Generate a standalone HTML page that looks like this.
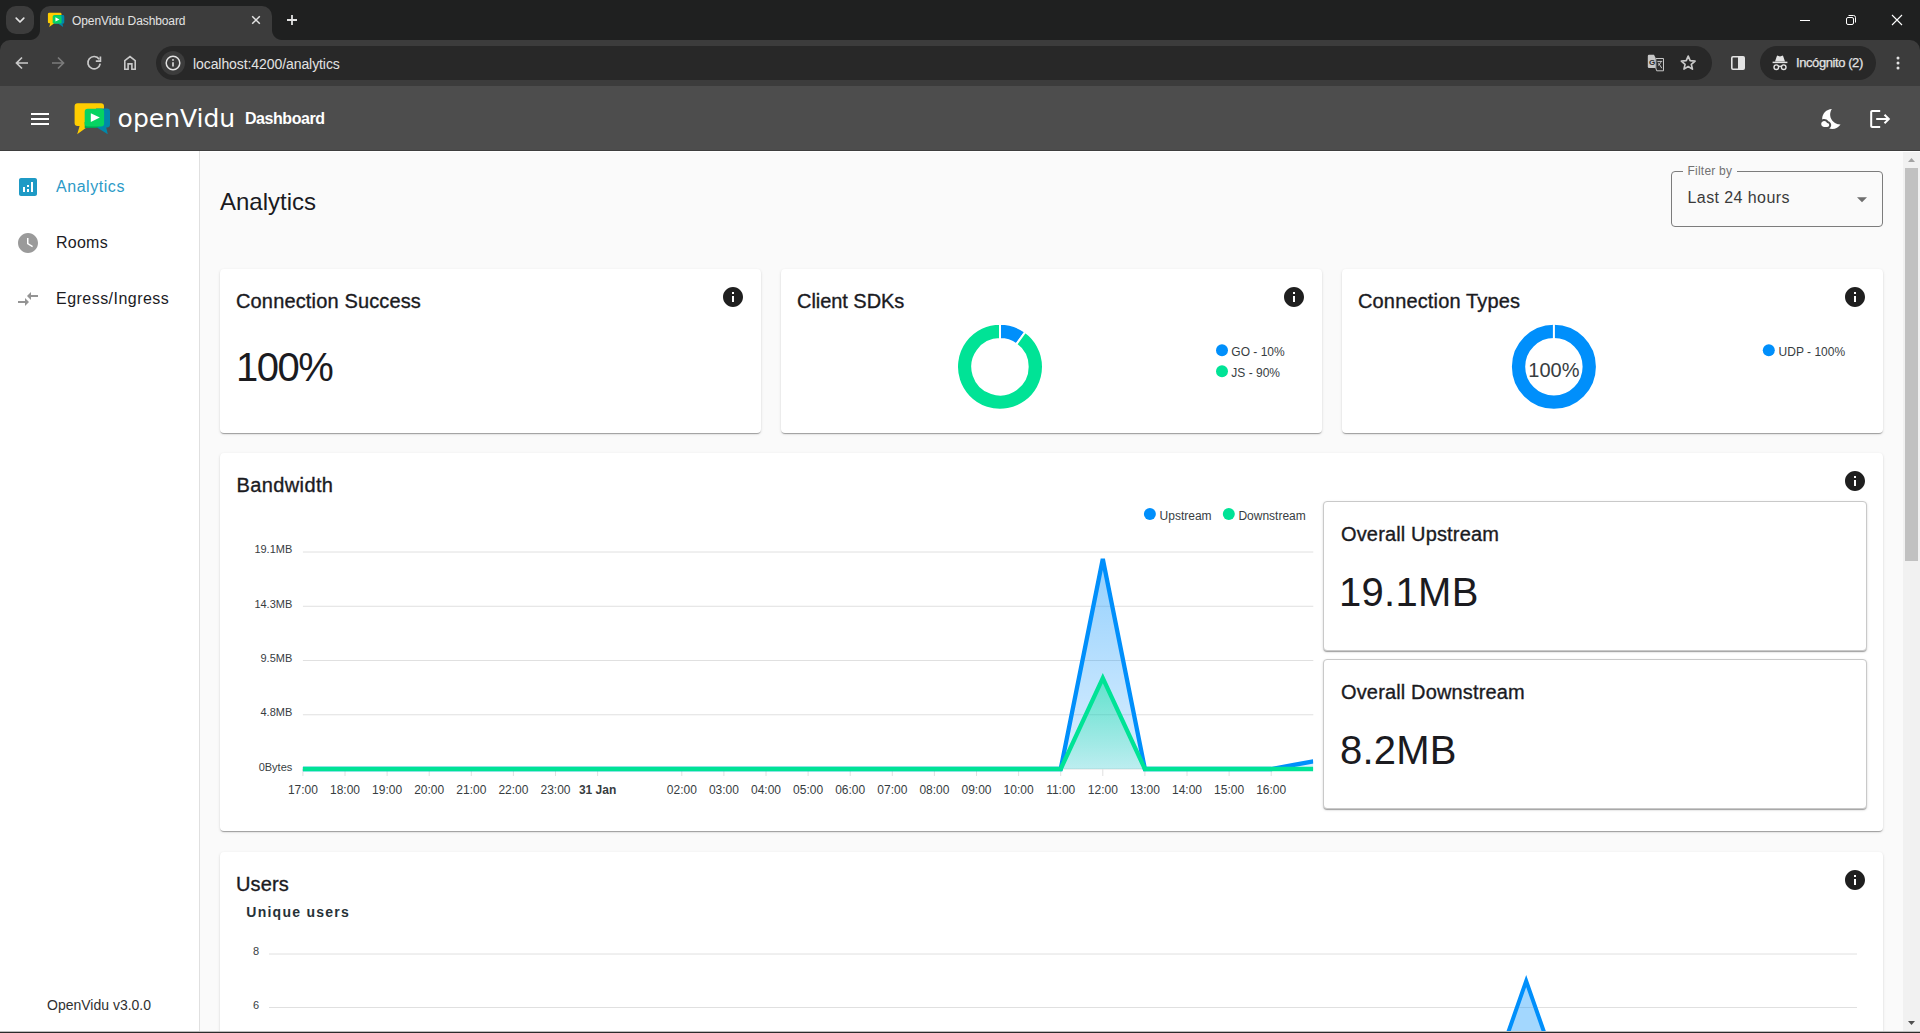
<!DOCTYPE html>
<html lang="en">
<head>
<meta charset="utf-8">
<title>OpenVidu Dashboard</title>
<style>
*{box-sizing:border-box;margin:0;padding:0}
html,body{width:1920px;height:1033px;overflow:hidden;background:#fafafa;font-family:"Liberation Sans",sans-serif;color:#1b1b1f}
#root{position:relative;width:1920px;height:1033px;overflow:hidden}
.abs{position:absolute}
/* ---------- browser chrome ---------- */
#tabstrip{position:absolute;left:0;top:0;width:1920px;height:52px;background:#1f2020}
#tabsearch{position:absolute;left:6px;top:6px;width:28px;height:28px;border-radius:10px;background:#3c3c3c}
#tab{position:absolute;left:40px;top:6px;width:232px;height:34px;border-radius:10px 10px 0 0;background:#3c3c3c}
#tab:before,#tab:after{content:"";position:absolute;bottom:0;width:10px;height:10px}
#tab:before{left:-10px;background:radial-gradient(circle at 0 0,transparent 9.5px,#3c3c3c 10.5px)}
#tab:after{right:-10px;background:radial-gradient(circle at 100% 0,transparent 9.5px,#3c3c3c 10.5px)}
#tabtitle{position:absolute;left:72px;top:14px;font-size:12px;line-height:14px;color:#e3e3e3;white-space:nowrap;letter-spacing:-0.1px}
#toolbar{position:absolute;left:0;top:40px;width:1920px;height:46px;background:#3c3c3c;border-radius:10px 10px 0 0}
#omni{position:absolute;left:156px;top:46px;width:1556px;height:34px;border-radius:17px;background:#282828}
#omni-ic{position:absolute;left:161px;top:51px;width:24px;height:24px;border-radius:12px;background:#3c3c3c}
#url{position:absolute;left:193px;top:55.6px;font-size:14px;line-height:16px;color:#e3e3e3;white-space:nowrap;letter-spacing:-.08px}
#incog{position:absolute;left:1760px;top:46px;width:116px;height:34px;border-radius:17px;background:#282828}
#incog-t{position:absolute;left:1796px;top:55px;font-size:13px;line-height:16px;color:#e3e3e3;white-space:nowrap;letter-spacing:-0.42px;-webkit-text-stroke:.25px #e3e3e3}
/* ---------- app header ---------- */
#apphead{position:absolute;left:0;top:86px;width:1920px;height:65px;background:#4d4d4d;border-bottom:1px solid #3e3e3e}
#dash{position:absolute;left:245px;top:109px;font-size:16px;line-height:20px;font-weight:bold;color:#fff;white-space:nowrap;letter-spacing:-0.45px}
/* ---------- sidebar ---------- */
#side{position:absolute;left:0;top:151px;width:200px;height:880px;background:#fff;border-right:1px solid #e0e0e0}
.nav{position:absolute;left:56px;font-size:16px;line-height:20px;color:#1b1b1f;white-space:nowrap;letter-spacing:.2px}
#ver{position:absolute;left:47px;top:997px;font-size:14px;line-height:16px;color:#303030;white-space:nowrap}
/* ---------- main ---------- */
#main{position:absolute;left:200px;top:151px;width:1720px;height:880px;background:#fafafa;border-top:1px solid #fff}
#sbar{position:absolute;left:1903px;top:152px;width:17px;height:879px;background:#f1f1f1}
#sthumb{position:absolute;left:1905px;top:168px;width:13px;height:393px;background:#c1c1c1}
#botline{position:absolute;left:0;top:1031px;width:1920px;height:2px;background:#2b2b2b;border-top:1px solid #bdbdbd}
h1{position:absolute;left:220px;top:187px;font-size:24px;line-height:30px;font-weight:normal;color:#1b1b1f;white-space:nowrap}
.card{position:absolute;background:#fff;border-radius:4px;box-shadow:0 2px 1px -1px rgba(0,0,0,.2),0 1px 1px 0 rgba(0,0,0,.14),0 1px 3px 0 rgba(0,0,0,.12)}
.ct{position:absolute;font-size:20px;line-height:24px;font-weight:normal;color:#1b1b1f;white-space:nowrap;-webkit-text-stroke:.35px #1b1b1f;letter-spacing:.15px}
.big{position:absolute;font-size:40px;line-height:46px;color:#1b1b1f;white-space:nowrap;letter-spacing:-1.5px}
.ocard{position:absolute;background:#fff;border:1px solid #c9c9c9;border-radius:4px;box-shadow:0 2px 1px -1px rgba(0,0,0,.2),0 1px 1px 0 rgba(0,0,0,.14),0 1px 3px 0 rgba(0,0,0,.12)}
svg{position:absolute;overflow:visible}
svg text{font-family:"Liberation Sans",sans-serif}
</style>
</head>
<body>
<div id="root">
<!-- CHROME -->
<div id="tabstrip"></div>
<div id="tabsearch"></div>
<div id="tab"></div>
<div id="tabtitle">OpenVidu Dashboard</div>
<div id="toolbar"></div>
<div id="omni"></div>
<div id="omni-ic"></div>
<div id="url">localhost:4200/analytics</div>
<div id="incog"></div>
<div id="incog-t">Incógnito (2)</div>
<!-- chrome icons -->
<svg style="left:0;top:0" width="1920" height="86" viewBox="0 0 1920 86">
 <!-- tab search chevron -->
 <path d="M16.2 18.2 L20 22 L23.8 18.2" fill="none" stroke="#e3e3e3" stroke-width="1.7" stroke-linecap="round" stroke-linejoin="round"/>
 <!-- favicon -->
 <g transform="translate(47.9,12.8) scale(0.455)">
  <path d="M3 0 H27 a3 3 0 0 1 3 3 V20 a3 3 0 0 1 -3 3 H14 L3 31 L5 23 H3 a3 3 0 0 1 -3 -3 V3 a3 3 0 0 1 3 -3z" fill="#ffcd00"/>
  <path d="M14 5 H33 a3 3 0 0 1 3 3 V21 a3 3 0 0 1 -3 3 H32 L33.5 31 L23 24 H14z" fill="#0088aa"/>
  <rect x="10.5" y="5.5" width="19.5" height="18" rx="3" fill="#06d362"/>
  <path d="M16.5 10 L25.5 14.5 L16.5 19z" fill="#fff"/>
 </g>
 <!-- tab close -->
 <path d="M252.2 16.2 L259.8 23.8 M259.8 16.2 L252.2 23.8" stroke="#e3e3e3" stroke-width="1.5" fill="none"/>
 <!-- new tab plus -->
 <path d="M287 20 H297 M292 15 V25" stroke="#e3e3e3" stroke-width="1.8" fill="none"/>
 <!-- window controls -->
 <path d="M1800 20.5 H1810" stroke="#fff" stroke-width="1"/>
 <rect x="1846.5" y="17.5" width="7" height="7" rx="1.5" fill="none" stroke="#fff" stroke-width="1"/>
 <path d="M1848.5 15.5 H1853.5 a2 2 0 0 1 2 2 V22.5" fill="none" stroke="#fff" stroke-width="1"/>
 <path d="M1892 15 L1902 25 M1902 15 L1892 25" stroke="#fff" stroke-width="1.1" fill="none"/>
 <!-- back -->
 <path d="M28 63 H17 M22 57.5 L16.5 63 L22 68.5" fill="none" stroke="#c9c9c9" stroke-width="1.7" stroke-linejoin="miter"/>
 <!-- forward (disabled) -->
 <path d="M52 63 H63 M58 57.5 L63.5 63 L58 68.5" fill="none" stroke="#7b7b7b" stroke-width="1.7"/>
 <!-- reload -->
 <path d="M99.2 59.2 A6.2 6.2 0 1 0 100.2 63.6" fill="none" stroke="#c9c9c9" stroke-width="1.7"/>
 <path d="M100.4 56.6 V61.2 H95.8" fill="none" stroke="#c9c9c9" stroke-width="1.7"/>
 <!-- home -->
 <path d="M124.8 69.2 V60.6 L130 56.6 L135.2 60.6 V69.2 H131.9 V63.9 H128.1 V69.2z" fill="none" stroke="#c9c9c9" stroke-width="1.6" stroke-linejoin="miter"/>
 <!-- site info -->
 <circle cx="173" cy="63" r="6.8" fill="none" stroke="#e3e3e3" stroke-width="1.5"/>
 <path d="M173 62.2 V66.6" stroke="#e3e3e3" stroke-width="1.6"/>
 <circle cx="173" cy="59.9" r="0.95" fill="#e3e3e3"/>
 <!-- translate -->
 <path d="M1649 54.7 H1654 L1655.5 57.8 V68 H1649 a1.2 1.2 0 0 1 -1.2 -1.2 V55.9 a1.2 1.2 0 0 1 1.2 -1.2z" fill="#c7c7c7"/>
 <path d="M1655.8 58.5 H1663.5 V70.8 H1656.7 L1655.8 68z" fill="#2c2c2c" stroke="#c7c7c7" stroke-width="1"/>
 <text x="1649" y="64.8" font-size="8" font-weight="bold" fill="#2a2a2a">G</text>
 <path d="M1657.4 61.4 H1662.2 M1661 61.4 C1660.6 63.2 1659.6 64.4 1658 65.4 M1658.4 62.8 L1661.8 68.2" fill="none" stroke="#c7c7c7" stroke-width="1"/>
 <!-- star -->
 <path d="M1688.20 56.10 L1690.14 60.63 L1695.05 61.08 L1691.34 64.32 L1692.43 69.12 L1688.20 66.60 L1683.97 69.12 L1685.06 64.32 L1681.35 61.08 L1686.26 60.63z" fill="none" stroke="#c9c9c9" stroke-width="1.7" stroke-linejoin="round"/>
 <!-- side panel -->
 <rect x="1731.8" y="56.8" width="12.4" height="12.4" rx="1.2" fill="none" stroke="#e3e3e3" stroke-width="1.6"/>
 <rect x="1738" y="56.8" width="6.2" height="12.4" fill="#e3e3e3"/>
 <!-- incognito icon -->
 <path d="M1772.6 62.4 H1787.4" stroke="#e3e3e3" stroke-width="1.5"/>
 <path d="M1775 61.6 L1776.8 56.2 Q1777.1 55.4 1777.9 55.7 L1780 56.5 L1782.1 55.7 Q1782.9 55.4 1783.2 56.2 L1785 61.6z" fill="#e3e3e3"/>
 <circle cx="1776.3" cy="67.2" r="2.3" fill="none" stroke="#e3e3e3" stroke-width="1.4"/>
 <circle cx="1783.7" cy="67.2" r="2.3" fill="none" stroke="#e3e3e3" stroke-width="1.4"/>
 <path d="M1778.4 66.6 Q1780 65.6 1781.6 66.6" fill="none" stroke="#e3e3e3" stroke-width="1.3"/>
 <!-- menu dots -->
 <circle cx="1898" cy="58" r="1.5" fill="#e3e3e3"/><circle cx="1898" cy="63" r="1.5" fill="#e3e3e3"/><circle cx="1898" cy="68" r="1.5" fill="#e3e3e3"/>
</svg>
<!-- APP HEADER -->
<div id="apphead"></div>
<svg style="left:0;top:86px" width="1920" height="64" viewBox="0 86 1920 64">
 <!-- hamburger -->
 <path d="M31 113h18v2H31zM31 118h18v2H31zM31 123h18v2H31z" fill="#fff"/>
 <!-- logo -->
 <path d="M77.6 103.3 H101 a3 3 0 0 1 3 3 V123 a3 3 0 0 1 -3 3 H88.5 L77.2 134.2 L79.6 126 H77.6 a3 3 0 0 1 -3 -3 V106.3 a3 3 0 0 1 3 -3z" fill="#ffcd00"/>
 <path d="M96 108.5 H107 a3 3 0 0 1 3 3 V124.4 a3 3 0 0 1 -3 3 H106.2 L107.8 134.3 L97 127.4 H96z" fill="#0088aa"/>
 <path d="M84.7 122 V128 H96 L100 126 V122z" fill="#00a651"/>
 <rect x="84.7" y="108.7" width="19.4" height="17.8" rx="3" fill="#06d362"/>
 <path d="M90.8 113.2 L99.8 117.6 L90.8 122z" fill="#fff"/>
 <!-- moon (nights_stay) -->
 <g transform="translate(1820.2,107)" fill="#fff">
  <path d="M11.1 12.08c-2.33-4.51-.5-8.48.53-10.07C6.27 2.2 1.98 6.59 1.98 12c0 .14.02.28.02.42.62-.27 1.29-.42 2-.42 1.66 0 3.18.83 4.1 2.15 1.67.48 2.9 2.02 2.9 3.85 0 1.52-.87 2.83-2.12 3.51.98.32 2.03.5 3.11.5 3.5 0 6.58-1.8 8.37-4.52-2.36.23-6.98-.97-9.26-5.41z"/>
  <path d="M7 16h-.18C6.4 14.84 5.3 14 4 14c-1.66 0-3 1.34-3 3s1.34 3 3 3h3c1.1 0 2-.9 2-2s-.9-2-2-2z"/>
 </g>
 <!-- logout -->
 <g transform="translate(1868.2,107)" fill="#fff">
  <path d="M17 7l-1.41 1.41L18.17 11H8v2h10.17l-2.58 2.58L17 17l5-5zM4 5h8V3H4c-1.1 0-2 .9-2 2v14c0 1.1.9 2 2 2h8v-2H4V5z"/>
 </g>
 <text x="117.6" y="127" font-size="25" fill="#fff" style="font-family:'DejaVu Sans',sans-serif">openVidu</text>
</svg>
<div id="dash">Dashboard</div>
<!-- SIDEBAR -->
<div id="side"></div>
<svg style="left:0;top:151px" width="199" height="180" viewBox="0 151 199 180">
 <g transform="translate(16,175)" fill="#1e9ac5"><path d="M19 3H5c-1.1 0-2 .9-2 2v14c0 1.1.9 2 2 2h14c1.1 0 2-.9 2-2V5c0-1.1-.9-2-2-2zM9 17H7v-5h2v5zm4 0h-2v-3h2v3zm0-5h-2v-2h2v2zm4 5h-2V7h2v10z"/></g>
 <g transform="translate(16,231)" fill="#9a9a9a"><path d="M12 2C6.5 2 2 6.5 2 12s4.5 10 10 10 10-4.5 10-10S17.5 2 12 2zm4.2 14.2L11 13V7h1.5v5.2l4.5 2.7-.8 1.3z"/></g>
 <g transform="translate(16,287)" fill="#949494"><path d="M9.01 14H2v2h7.01v3L13 15l-3.99-4v3zm5.98-1v-3H22V8h-7.01V5L11 9l3.99 4z"/></g>
</svg>
<div class="nav" style="top:177px;color:#2c9ac7;letter-spacing:.55px">Analytics</div>
<div class="nav" style="top:233px;letter-spacing:.25px">Rooms</div>
<div class="nav" style="top:289px;letter-spacing:.47px">Egress/Ingress</div>
<div id="ver">OpenVidu v3.0.0</div>
<!-- MAIN -->
<div id="main"></div>
<h1>Analytics</h1>
<!-- CARDS-ROW -->
<div class="card" style="left:220px;top:269px;width:541px;height:164px"></div>
<div class="card" style="left:781px;top:269px;width:541px;height:164px"></div>
<div class="card" style="left:1342px;top:269px;width:541px;height:164px"></div>
<div class="ct" style="left:236px;top:289px">Connection Success</div>
<div class="big" style="left:236px;top:344px">100%</div>
<div class="ct" style="left:797px;top:289px;letter-spacing:-.05px">Client SDKs</div>
<div class="ct" style="left:1358px;top:289px">Connection Types</div>
<!-- BANDWIDTH -->
<div class="card" style="left:220px;top:453px;width:1663px;height:378px"></div>
<div class="ct" style="left:236.4px;top:473px;letter-spacing:.4px">Bandwidth</div>
<div class="ocard" style="left:1323px;top:501px;width:544px;height:150px"></div>
<div class="ocard" style="left:1323px;top:659px;width:544px;height:150px"></div>
<div class="ct" style="left:1341px;top:522px">Overall Upstream</div>
<div class="big" style="left:1339px;top:569px;letter-spacing:.3px">19.1MB</div>
<div class="ct" style="left:1341px;top:680px">Overall Downstream</div>
<div class="big" style="left:1340px;top:727px;letter-spacing:.2px">8.2MB</div>
<svg style="left:220px;top:453px" width="1663" height="378" viewBox="220 453 1663 378">
 <defs>
  <linearGradient id="gu" x1="0" y1="0" x2="0" y2="1"><stop offset="0" stop-color="#008ffb" stop-opacity=".42"/><stop offset="1" stop-color="#008ffb" stop-opacity=".14"/></linearGradient>
  <linearGradient id="gd" x1="0" y1="0" x2="0" y2="1"><stop offset="0" stop-color="#00e396" stop-opacity=".48"/><stop offset="1" stop-color="#00e396" stop-opacity=".14"/></linearGradient>
  <clipPath id="cb"><rect x="301.9" y="540" width="1011.4" height="233"/></clipPath>
 </defs>
 <path d="M302.9 552 H1313.3" stroke="#e0e0e0" stroke-width="1"/><path d="M302.9 606.25 H1313.3" stroke="#e0e0e0" stroke-width="1"/><path d="M302.9 660.5 H1313.3" stroke="#e0e0e0" stroke-width="1"/><path d="M302.9 714.75 H1313.3" stroke="#e0e0e0" stroke-width="1"/><path d="M302.9 769 H1313.3" stroke="#e0e0e0" stroke-width="1"/>
 <path d="M302.9 769 V776" stroke="#e0e0e0" stroke-width="1"/><path d="M345.0 769 V776" stroke="#e0e0e0" stroke-width="1"/><path d="M387.1 769 V776" stroke="#e0e0e0" stroke-width="1"/><path d="M429.2 769 V776" stroke="#e0e0e0" stroke-width="1"/><path d="M471.3 769 V776" stroke="#e0e0e0" stroke-width="1"/><path d="M513.4 769 V776" stroke="#e0e0e0" stroke-width="1"/><path d="M555.5 769 V776" stroke="#e0e0e0" stroke-width="1"/><path d="M597.6 769 V776" stroke="#e0e0e0" stroke-width="1"/><path d="M681.8 769 V776" stroke="#e0e0e0" stroke-width="1"/><path d="M723.9 769 V776" stroke="#e0e0e0" stroke-width="1"/><path d="M766.0 769 V776" stroke="#e0e0e0" stroke-width="1"/><path d="M808.1 769 V776" stroke="#e0e0e0" stroke-width="1"/><path d="M850.2 769 V776" stroke="#e0e0e0" stroke-width="1"/><path d="M892.3 769 V776" stroke="#e0e0e0" stroke-width="1"/><path d="M934.4 769 V776" stroke="#e0e0e0" stroke-width="1"/><path d="M976.5 769 V776" stroke="#e0e0e0" stroke-width="1"/><path d="M1018.6 769 V776" stroke="#e0e0e0" stroke-width="1"/><path d="M1060.7 769 V776" stroke="#e0e0e0" stroke-width="1"/><path d="M1102.8 769 V776" stroke="#e0e0e0" stroke-width="1"/><path d="M1144.9 769 V776" stroke="#e0e0e0" stroke-width="1"/><path d="M1187.0 769 V776" stroke="#e0e0e0" stroke-width="1"/><path d="M1229.1 769 V776" stroke="#e0e0e0" stroke-width="1"/><path d="M1271.2 769 V776" stroke="#e0e0e0" stroke-width="1"/>
 <text x="292.3" y="552.8" font-size="11" fill="#373d3f" text-anchor="end">19.1MB</text><text x="292.3" y="607.9" font-size="11" fill="#373d3f" text-anchor="end">14.3MB</text><text x="292.3" y="662.1" font-size="11" fill="#373d3f" text-anchor="end">9.5MB</text><text x="292.3" y="716.4" font-size="11" fill="#373d3f" text-anchor="end">4.8MB</text><text x="292.3" y="770.6" font-size="11" fill="#373d3f" text-anchor="end">0Bytes</text>
 <text x="302.9" y="793.8" font-size="12" fill="#373d3f" text-anchor="middle">17:00</text><text x="345.0" y="793.8" font-size="12" fill="#373d3f" text-anchor="middle">18:00</text><text x="387.1" y="793.8" font-size="12" fill="#373d3f" text-anchor="middle">19:00</text><text x="429.2" y="793.8" font-size="12" fill="#373d3f" text-anchor="middle">20:00</text><text x="471.3" y="793.8" font-size="12" fill="#373d3f" text-anchor="middle">21:00</text><text x="513.4" y="793.8" font-size="12" fill="#373d3f" text-anchor="middle">22:00</text><text x="555.5" y="793.8" font-size="12" fill="#373d3f" text-anchor="middle">23:00</text><text x="597.6" y="793.8" font-size="12" fill="#373d3f" text-anchor="middle" font-weight="bold">31 Jan</text><text x="681.8" y="793.8" font-size="12" fill="#373d3f" text-anchor="middle">02:00</text><text x="723.9" y="793.8" font-size="12" fill="#373d3f" text-anchor="middle">03:00</text><text x="766.0" y="793.8" font-size="12" fill="#373d3f" text-anchor="middle">04:00</text><text x="808.1" y="793.8" font-size="12" fill="#373d3f" text-anchor="middle">05:00</text><text x="850.2" y="793.8" font-size="12" fill="#373d3f" text-anchor="middle">06:00</text><text x="892.3" y="793.8" font-size="12" fill="#373d3f" text-anchor="middle">07:00</text><text x="934.4" y="793.8" font-size="12" fill="#373d3f" text-anchor="middle">08:00</text><text x="976.5" y="793.8" font-size="12" fill="#373d3f" text-anchor="middle">09:00</text><text x="1018.6" y="793.8" font-size="12" fill="#373d3f" text-anchor="middle">10:00</text><text x="1060.7" y="793.8" font-size="12" fill="#373d3f" text-anchor="middle">11:00</text><text x="1102.8" y="793.8" font-size="12" fill="#373d3f" text-anchor="middle">12:00</text><text x="1144.9" y="793.8" font-size="12" fill="#373d3f" text-anchor="middle">13:00</text><text x="1187.0" y="793.8" font-size="12" fill="#373d3f" text-anchor="middle">14:00</text><text x="1229.1" y="793.8" font-size="12" fill="#373d3f" text-anchor="middle">15:00</text><text x="1271.2" y="793.8" font-size="12" fill="#373d3f" text-anchor="middle">16:00</text>
 <g clip-path="url(#cb)">
 <path d="M302.9 769.0 L1060.7 769.0 L1102.8 559.0 L1144.9 769.0 L1271.2 769.0 L1313.3 761.3 L1313.3 769 L302.9 769z" fill="url(#gu)"/>
 <path d="M302.9 769.0 L1060.7 769.0 L1102.8 559.0 L1144.9 769.0 L1271.2 769.0 L1313.3 761.3" fill="none" stroke="#008ffb" stroke-width="4.3" stroke-linejoin="miter" stroke-miterlimit="4"/>
 <path d="M302.9 769.0 L1060.7 769.0 L1102.8 678.0 L1144.9 769.0 L1313.3 769.0 L1313.3 769 L302.9 769z" fill="url(#gd)"/>
 <path d="M302.9 769.0 L1060.7 769.0 L1102.8 678.0 L1144.9 769.0 L1313.3 769.0" fill="none" stroke="#00e396" stroke-width="4.3" stroke-linejoin="miter" stroke-miterlimit="4"/>
 </g>
 <circle cx="1149.9" cy="514" r="6" fill="#008ffb"/>
 <text x="1159.6" y="519.5" font-size="12" fill="#373d3f">Upstream</text>
 <circle cx="1228.8" cy="514" r="6" fill="#00e396"/>
 <text x="1238.4" y="519.5" font-size="12" fill="#373d3f">Downstream</text>
</svg>
<!-- USERS -->
<div class="card" style="left:220px;top:852px;width:1663px;height:200px"></div>
<div class="ct" style="left:236px;top:872px">Users</div>
<svg style="left:220px;top:852px" width="1663" height="181" viewBox="220 852 1663 181">
 <defs><clipPath id="cu"><rect x="220" y="852" width="1663" height="179"/></clipPath></defs>
 <text x="246.3" y="917.2" font-size="14" font-weight="bold" fill="#263238" style="letter-spacing:1.25px">Unique users</text>
 <path d="M269 954 H1857 M269 1007.5 H1857" stroke="#e0e0e0" stroke-width="1"/>
 <text x="259.2" y="955.2" font-size="11" fill="#373d3f" text-anchor="end">8</text>
 <text x="259.2" y="1008.8" font-size="11" fill="#373d3f" text-anchor="end">6</text>
 <g clip-path="url(#cu)">
 <path d="M1460.0 1170.0 L1526.2 981.0 L1592.3 1170.0z" fill="#008ffb" fill-opacity=".36"/>
 <path d="M1460.0 1170.0 L1526.2 981.0 L1592.3 1170.0" fill="none" stroke="#008ffb" stroke-width="4" stroke-miterlimit="4"/>
 </g>
</svg>
<!-- select -->
<div class="abs" style="left:1671px;top:171px;width:212px;height:56px;border:1px solid #7c7c7c;border-radius:4px"></div>
<div class="abs" style="left:1683px;top:170px;width:54px;height:3px;background:#fafafa"></div>
<div class="abs" style="left:1687.5px;top:164px;font-size:12px;line-height:14px;color:#727272;letter-spacing:.22px;white-space:nowrap">Filter by</div>
<div class="abs" style="left:1687.5px;top:188px;font-size:16px;line-height:20px;color:#3a3a3a;letter-spacing:.42px;white-space:nowrap">Last 24 hours</div>
<svg style="left:0;top:151px" width="1903" height="882" viewBox="0 151 1903 882">
 <path d="M1857 197.2 H1867 L1862 202.2z" fill="#6e6e6e"/>
 <g fill="#1f1f1f"><g transform="translate(721,285)"><path d="M12 2C6.48 2 2 6.48 2 12s4.48 10 10 10 10-4.48 10-10S17.52 2 12 2zm1 15h-2v-6h2v6zm0-8h-2V7h2v2z"/></g><g transform="translate(1282,285)"><path d="M12 2C6.48 2 2 6.48 2 12s4.48 10 10 10 10-4.48 10-10S17.52 2 12 2zm1 15h-2v-6h2v6zm0-8h-2V7h2v2z"/></g><g transform="translate(1843,285)"><path d="M12 2C6.48 2 2 6.48 2 12s4.48 10 10 10 10-4.48 10-10S17.52 2 12 2zm1 15h-2v-6h2v6zm0-8h-2V7h2v2z"/></g><g transform="translate(1843,469)"><path d="M12 2C6.48 2 2 6.48 2 12s4.48 10 10 10 10-4.48 10-10S17.52 2 12 2zm1 15h-2v-6h2v6zm0-8h-2V7h2v2z"/></g><g transform="translate(1843,868)"><path d="M12 2C6.48 2 2 6.48 2 12s4.48 10 10 10 10-4.48 10-10S17.52 2 12 2zm1 15h-2v-6h2v6zm0-8h-2V7h2v2z"/></g></g>
 <!-- donut 1 -->
 <path d="M1000.00 323.80 A43 43 0 0 1 1025.27 332.01 L1016.28 344.39 A27.7 27.7 0 0 0 1000.00 339.10z" fill="#008ffb" stroke="#fff" stroke-width="2"/>
 <path d="M1025.27 332.01 A43 43 0 1 1 1000.00 323.80 L1000.00 339.10 A27.7 27.7 0 1 0 1016.28 344.39z" fill="#00e396" stroke="#fff" stroke-width="2"/>
 <circle cx="1222" cy="350.2" r="6" fill="#008ffb"/>
 <circle cx="1222" cy="371.2" r="6" fill="#00e396"/>
 <text x="1231.3" y="355.6" font-size="12" fill="#373d3f">GO - 10%</text>
 <text x="1231.3" y="376.6" font-size="12" fill="#373d3f">JS - 90%</text>
 <!-- donut 2 -->
 <circle cx="1553.9" cy="366.8" r="35.35" fill="none" stroke="#008ffb" stroke-width="13.3"/>
 <path d="M1553.9 322 V341" stroke="#fff" stroke-width="2"/>
 <text x="1553.9" y="376.9" font-size="20" fill="#373d3f" text-anchor="middle">100%</text>
 <circle cx="1768.8" cy="350.2" r="6" fill="#008ffb"/>
 <text x="1778.6" y="355.6" font-size="12" fill="#373d3f">UDP - 100%</text>
</svg>
<!-- SCROLLBAR -->
<div id="sbar"></div>
<div id="sthumb"></div>
<svg style="left:1903px;top:151px" width="17" height="880" viewBox="1903 151 17 880"><path d="M1908 162 L1911.5 158 L1915 162z" fill="#a3a3a3"/><path d="M1908 1021 L1915 1021 L1911.5 1025z" fill="#505050"/></svg>
<div id="botline"></div>
</div>
</body>
</html>
